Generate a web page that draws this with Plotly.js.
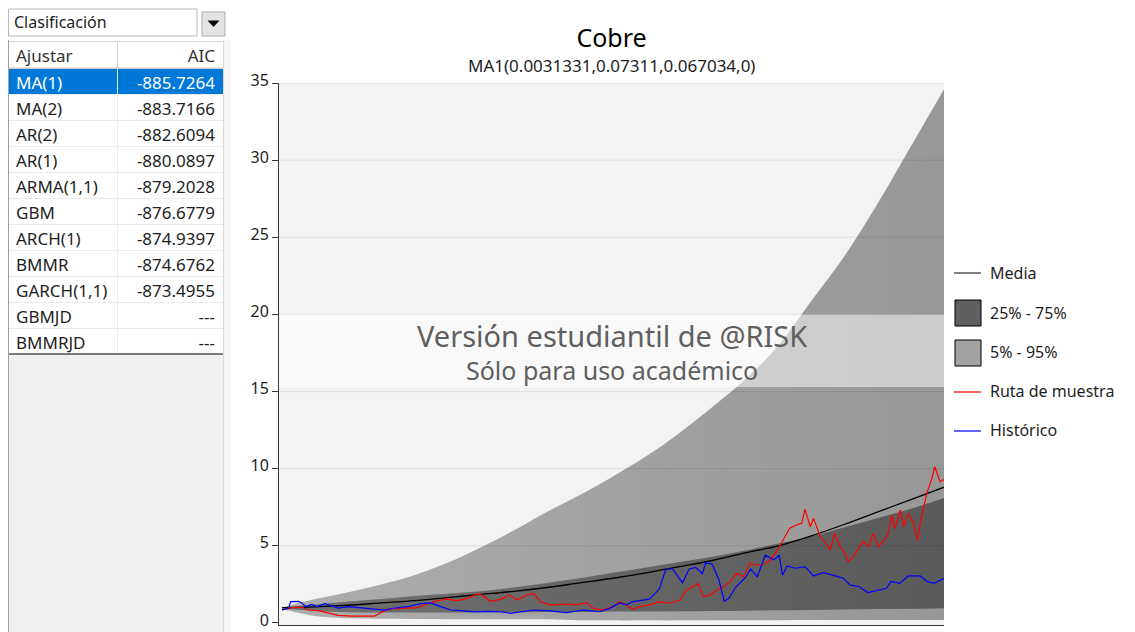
<!DOCTYPE html>
<html>
<head>
<meta charset="utf-8">
<script src="https://cdn.plot.ly/plotly-3.0.1.min.js"></script>
<style>
html,body{margin:0;padding:0;background:#ffffff;}
#chart{width:1135px;height:632px;}
</style>
</head>
<body>
<div id="chart"></div>
<script>
// ---------------- DATA ----------------
const models = ['MA(1)','MA(2)','AR(2)','AR(1)','ARMA(1,1)','GBM','ARCH(1)','BMMR','GARCH(1,1)','GBMJD','BMMRJD'];
const aic = [-885.7264,-883.7166,-882.6094,-880.0897,-879.2028,-876.6779,-874.9397,-874.6762,-873.4955,null,null];

const yTicks = [0,5,10,15,20,25,30,35];

// forecast bands (period index 0..100)
const bandT = [0,5,10,15,20,25,30,35,40,45,50,55,60,65,70,75,80,85,90,95,100];
const p95   = [1.0,1.55,2.0,2.5,3.1,3.9,4.9,6.0,7.2,8.3,9.5,10.8,12.3,14.0,15.8,18.0,20.9,23.8,27.2,30.9,34.6];
const p75   = [1.0,1.2,1.4,1.55,1.75,1.9,2.05,2.3,2.6,2.9,3.25,3.6,3.95,4.3,4.7,5.15,5.6,6.2,6.8,7.4,8.1];
const p25   = [0.95,0.78,0.7,0.68,0.68,0.68,0.7,0.7,0.72,0.72,0.74,0.74,0.76,0.78,0.8,0.82,0.85,0.87,0.9,0.92,0.95];
const p05   = [0.9,0.45,0.3,0.27,0.26,0.25,0.25,0.25,0.24,0.18,0.17,0.17,0.17,0.18,0.18,0.18,0.19,0.19,0.2,0.2,0.2];
const meanV = [1.0,1.05,1.15,1.3,1.45,1.65,1.85,2.05,2.3,2.6,2.9,3.25,3.65,4.05,4.55,5.0,5.65,6.4,7.2,8.0,8.8];

// sample path (Ruta de muestra)
const pathT = [0,1.5,3,4,5.5,7,8.5,10.5,12.5,14,14.7,16,18,20.5,21.5,23.5,25,26.5,28,29.5,
  30.3,31.5,33,34.4,35.5,37,38,39,40.5,43,44.5,46,47,48.5,50,51,52,53,54,55.6,
  57.1,58.6,60.1,61.1,62.1,62.9,63.6,64.7,65.7,66.7,67.7,68.7,69.7,70.7,71.7,72.7,73.7,74.7,75.7,76.7,
  77.7,78.5,79,79.8,80.3,81.3,82.2,82.8,83.5,84.3,85,85.5,86.3,87.1,87.8,88.6,89.3,90.1,90.8,91.6,
  92.1,92.6,93.4,93.9,94.6,95.4,96,96.6,97.4,98.1,98.6,99.4,100];
const pathV = [0.85,1.0,1.02,0.84,0.8,0.65,0.5,0.45,0.47,0.45,0.62,0.9,0.95,1.0,1.17,1.45,1.55,1.45,1.6,1.88,
  1.8,1.4,1.53,1.81,1.49,1.81,1.92,1.38,1.17,1.23,1.17,1.32,0.95,0.84,1.06,1.38,1.17,0.89,1.06,1.17,
  1.38,1.28,1.49,2.14,2.35,2.57,1.71,1.81,2.14,2.35,2.68,3.22,3.0,3.87,3.76,3.76,4.08,4.62,5.38,6.14,
  6.35,6.46,7.37,6.24,6.78,5.59,5.16,4.73,5.81,4.95,4.52,3.97,4.3,4.84,5.27,4.95,5.81,4.95,5.27,5.81,
  7.0,6.14,7.32,6.24,7.11,6.46,5.38,6.89,8.4,9.27,10.13,9.16,9.3];

// historical data (Histórico)
const histT = [0,1,1.3,2.5,3,3.6,4.5,5.3,6.5,7.5,8.5,10,12,14,15.5,17,19,21,22.5,24,
  25.5,27,29,31,33,34.5,36,38,40.5,43,45.5,48,49.5,51,52,53,55.5,57,58,59,
  60.5,61.5,62.5,63.5,64,65,66,66.8,67.5,68.5,70,70.8,71.8,73,74.3,75.1,75.6,76.3,77.5,79,
  80.3,81.8,83.2,84.8,85.8,87.2,88.5,89.8,91.3,92,93.3,94.6,96.4,97.5,98.5,100];
const histV = [0.85,0.95,1.38,1.4,1.3,1.06,1.2,1.06,1.25,1.1,0.97,1.06,0.97,0.9,0.84,0.97,1.06,1.25,1.3,1.06,
  0.84,0.8,0.72,0.75,0.73,0.63,0.73,0.84,0.78,0.67,0.84,0.73,0.95,1.3,1.17,1.38,1.55,2.2,3.5,3.5,
  2.6,3.5,3.6,3.2,3.9,3.8,2.8,1.4,1.6,2.3,2.95,3.5,3.0,4.4,4.1,4.4,3.1,3.7,3.55,3.65,
  3.05,3.27,3.1,2.9,2.46,2.35,1.97,2.1,2.25,2.7,2.57,3.05,3.05,2.68,2.57,2.9];

const legendNames = ['Media','25% - 75%','5% - 95%','Ruta de muestra','Histórico'];

// ---------------- LAYOUT HELPERS ----------------
const W = 1135, H = 632;
const px = x => x / W;
const py = y => 1 - y / H;
const FONT = 'Noto Sans, Liberation Sans, DejaVu Sans, sans-serif';

const aicText = aic.map(v => v === null ? '---' : v.toFixed(4));
const selFill = models.map((m, i) => i === 0 ? '#0078d7' : '#ffffff');
const selFont = models.map((m, i) => i === 0 ? '#ffffff' : '#1e1e1e');

const traces = [
  {x: bandT, y: p05, type:'scatter', mode:'lines', line:{width:0, color:'rgba(0,0,0,0)', shape:'spline'}, hoverinfo:'skip', showlegend:false},
  {x: bandT, y: p95, type:'scatter', mode:'lines', line:{width:0, color:'rgba(0,0,0,0)', shape:'spline'}, fill:'tonexty',
   fillcolor:'#a0a0a0', fillgradient:{type:'horizontal', colorscale:[[0,'#adadad'],[1,'#979797']]},
   name: legendNames[2], hoverinfo:'skip', showlegend:false},
  {x: bandT, y: p25, type:'scatter', mode:'lines', line:{width:0, color:'rgba(0,0,0,0)', shape:'spline'}, hoverinfo:'skip', showlegend:false},
  {x: bandT, y: p75, type:'scatter', mode:'lines', line:{width:0, color:'rgba(0,0,0,0)', shape:'spline'}, fill:'tonexty',
   fillcolor:'#666666', fillgradient:{type:'horizontal', colorscale:[[0,'#707070'],[1,'#5a5a5a']]},
   name: legendNames[1], hoverinfo:'skip', showlegend:false},
  {x: bandT, y: meanV, type:'scatter', mode:'lines', line:{color:'#000000', width:1.3, shape:'spline'}, name: legendNames[0], showlegend:false},
  {x: pathT, y: pathV, type:'scatter', mode:'lines', line:{color:'#ff0000', width:1.2}, name: legendNames[3], showlegend:false},
  {x: histT, y: histV, type:'scatter', mode:'lines', line:{color:'#0000ff', width:1.2}, name: legendNames[4], showlegend:false},
  {
    type:'table',
    domain:{x:[px(8), px(223)], y:[py(356), py(41)]},
    columnwidth:[109,106],
    header:{
      values:['Ajustar','AIC'], align:['left','right'], height:27,
      fill:{color:'#ffffff'}, line:{color:'#d4d4d4', width:1},
      font:{family:FONT, size:17, color:'#333333'}
    },
    cells:{
      values:[models, aicText], align:['left','right'], height:26,
      fill:{color:[selFill, selFill]}, line:{color:'#ebebeb', width:1},
      font:{family:FONT, size:17, color:[selFont, selFont]}
    }
  }
];

const shapes = [];
// left panel
shapes.push({type:'rect', xref:'paper', yref:'paper', x0:px(8), x1:px(223), y0:py(632), y1:py(354), fillcolor:'#f0f0f0', line:{width:0}, layer:'below'});
shapes.push({type:'rect', xref:'paper', yref:'paper', x0:px(223), x1:px(231), y0:py(632), y1:py(40), fillcolor:'#f7f7f7', line:{width:0}, layer:'below'});
shapes.push({type:'line', xref:'paper', yref:'paper', x0:px(8.5), x1:px(8.5), y0:py(40), y1:py(632), line:{color:'#a0a0a0', width:1}});
shapes.push({type:'line', xref:'paper', yref:'paper', x0:px(223.5), x1:px(223.5), y0:py(40), y1:py(632), line:{color:'#dadada', width:1}});
shapes.push({type:'line', xref:'paper', yref:'paper', x0:px(9), x1:px(223), y0:py(354), y1:py(354), line:{color:'#7a7a7a', width:2}});
shapes.push({type:'line', xref:'paper', yref:'paper', x0:px(9), x1:px(223), y0:py(68), y1:py(68), line:{color:'#c8c8c8', width:1}});
// dropdown
shapes.push({type:'rect', xref:'paper', yref:'paper', x0:px(8.5), x1:px(197), y0:py(36), y1:py(9), fillcolor:'#ffffff', line:{color:'#b8b8b8', width:1}});
shapes.push({type:'rect', xref:'paper', yref:'paper', x0:px(202), x1:px(225), y0:py(36), y1:py(12), fillcolor:'#e3e3e3', line:{color:'#adadad', width:1}});
shapes.push({type:'path', xref:'paper', yref:'paper',
  path:`M ${px(207.5)},${py(20.5)} L ${px(219.5)},${py(20.5)} L ${px(213.5)},${py(27)} Z`,
  fillcolor:'#000000', line:{width:0}});
// gridlines above bands
yTicks.filter(v => v > 0).forEach(v => {
  shapes.push({type:'line', xref:'x domain', yref:'y', x0:0, x1:1, y0:v, y1:v, line:{color:'rgba(0,0,0,0.09)', width:1}, layer:'above'});
});
// watermark band
shapes.push({type:'rect', xref:'x domain', yref:'y', x0:0, x1:1, y0:15.3, y1:20, fillcolor:'rgba(255,255,255,0.5)', line:{width:0}, layer:'above'});
// legend symbols
shapes.push({type:'line', xref:'paper', yref:'paper', x0:px(954), x1:px(981), y0:py(273), y1:py(273), line:{color:'#000000', width:1}});
shapes.push({type:'rect', xref:'paper', yref:'paper', x0:px(955), x1:px(981), y0:py(326), y1:py(300), fillcolor:'#5f5f5f', line:{color:'#000000', width:1}});
shapes.push({type:'rect', xref:'paper', yref:'paper', x0:px(955), x1:px(981), y0:py(366), y1:py(340), fillcolor:'#a2a2a2', line:{color:'#000000', width:1}});
shapes.push({type:'line', xref:'paper', yref:'paper', x0:px(954), x1:px(981), y0:py(392), y1:py(392), line:{color:'#ff3030', width:1.5}});
shapes.push({type:'line', xref:'paper', yref:'paper', x0:px(954), x1:px(981), y0:py(431), y1:py(431), line:{color:'#3030ff', width:1.5}});

const annotations = [];
annotations.push({text:'Clasificación', xref:'paper', yref:'paper', x:px(12), y:py(22), xanchor:'left', yanchor:'middle', showarrow:false, font:{family:FONT, size:16, color:'#1e1e1e'}});
annotations.push({text:'MA1(0.0031331,0.07311,0.067034,0)', xref:'paper', yref:'paper', x:px(611.5), y:py(65), xanchor:'center', yanchor:'middle', showarrow:false, font:{family:FONT, size:17, color:'#1e1e1e'}});
annotations.push({text:'Versión estudiantil de @RISK', xref:'paper', yref:'paper', x:px(611.5), y:py(335), xanchor:'center', yanchor:'middle', showarrow:false, font:{family:FONT, size:29, color:'#5f5f5f'}});
annotations.push({text:'Sólo para uso académico', xref:'paper', yref:'paper', x:px(611.5), y:py(370), xanchor:'center', yanchor:'middle', showarrow:false, font:{family:FONT, size:25, color:'#5f5f5f'}});
const legY = [273, 313, 352, 391, 430];
legendNames.forEach((n, i) => {
  annotations.push({text:n, xref:'paper', yref:'paper', x:px(988), y:py(legY[i]), xanchor:'left', yanchor:'middle', showarrow:false, font:{family:FONT, size:16, color:'#1e1e1e'}});
});

const layout = {
  width: W, height: H,
  margin:{l:0, r:0, t:0, b:0, pad:0},
  paper_bgcolor:'#ffffff',
  plot_bgcolor:'#f3f3f3',
  showlegend:false,
  font:{family:FONT, color:'#1e1e1e'},
  title:{
    text:'Cobre', xref:'paper', x:px(611.5), xanchor:'center', yref:'container', y:py(38), yanchor:'middle',
    font:{family:FONT, size:25, color:'#000000'}
  },
  xaxis:{
    domain:[px(279), px(944)], range:[-0.45, 100],
    showline:true, linecolor:'#3a3a3a', linewidth:1,
    showgrid:false, zeroline:false, showticklabels:false, ticks:'', fixedrange:true
  },
  yaxis:{
    domain:[py(625), py(83)], range:[-0.13, 35],
    tickvals:yTicks, ticktext:yTicks.map(String),
    ticks:'outside', ticklen:6, tickcolor:'#3a3a3a',
    showline:true, linecolor:'#3a3a3a', linewidth:1,
    showgrid:false, zeroline:false, fixedrange:true,
    ticklabeloverflow:'allow', ticklabelshift:-3,
    tickfont:{family:FONT, size:16, color:'#1e1e1e'}
  },
  shapes: shapes,
  annotations: annotations
};

Plotly.newPlot('chart', traces, layout, {displayModeBar:false, staticPlot:true});
</script>
</body>
</html>
